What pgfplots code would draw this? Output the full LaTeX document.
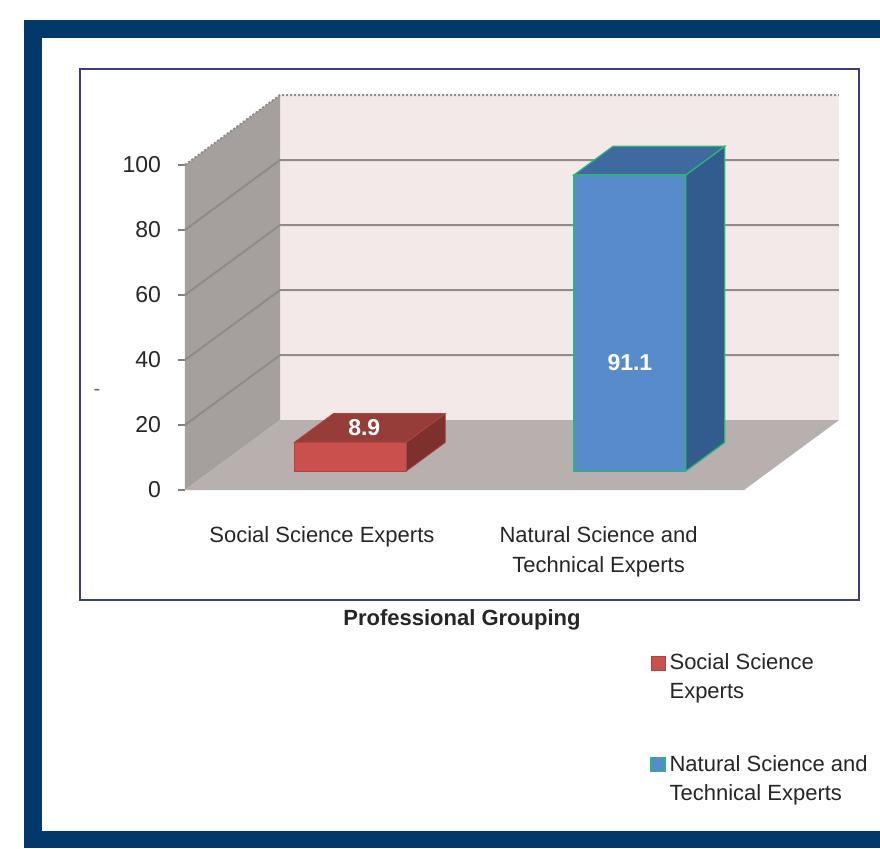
\documentclass[border=0pt]{standalone}
\usepackage{pgfplots}
\usepackage{pgfplotstable}
\pgfplotsset{compat=1.18}
\usepackage{fontspec}
\setmainfont{Liberation Sans}

\definecolor{navyframe}{HTML}{03386B}
\definecolor{plotborder}{HTML}{3D3D7D}
\definecolor{backwall}{HTML}{F4E9E9}
\definecolor{sidewall}{HTML}{A59F9E}
\definecolor{floorc}{HTML}{B8B0AF}
\definecolor{gridc}{HTML}{8F8B8B}
\definecolor{redF}{HTML}{C9504C}
\definecolor{redT}{HTML}{963C39}
\definecolor{redS}{HTML}{7D302D}
\definecolor{redE}{HTML}{B0443F}
\definecolor{blueF}{HTML}{578CCB}
\definecolor{blueT}{HTML}{3F6AA0}
\definecolor{blueS}{HTML}{335C8E}
\definecolor{greenE}{HTML}{2BB673}

% data
\pgfplotstableread{
x val
0 8.9
1 91.1
}\bars
\pgfplotstablegetelem{0}{val}\of\bars \let\valA\pgfplotsretval
\pgfplotstablegetelem{1}{val}\of\bars \let\valB\pgfplotsretval

% corners of the faces of a 3-D bar (u: across, d: depth, h: height)
\pgfplotstableread{
u d h
0 0 0
1 0 0
1 0 1
0 0 1
}\frontface
\pgfplotstableread{
u d h
0 0 1
1 0 1
1 1 1
0 1 1
}\topface
\pgfplotstableread{
u d h
1 0 0
1 1 0
1 1 1
1 0 1
}\sideface

% #1 style, #2 face table, #3 category position, #4 value
\newcommand\barface[4]{%
\addplot[#1, forget plot] table[x expr={#3+(\thisrow{u}-0.5)*0.4+(0.27+0.41*\thisrow{d})*0.34},
  y expr={(0.27+0.41*\thisrow{d})*21.5+\thisrow{h}*#4}] {#2} -- cycle;}

\begin{document}
\begin{tikzpicture}
\begin{scope}[x=0.5pt,y=-0.5pt]
\fill[white] (0,0) rectangle (880,848);
\fill[navyframe] (24,20) rectangle (880,848);
\fill[white] (42,38) rectangle (880,831);
\draw[plotborder, line width=1.1pt] (80,69) rectangle (859,600);
\node[text=black!60, font=\fontsize{10}{10}\selectfont] at (97,392) {-};
\end{scope}

\begin{axis}[
  at={(92.5pt,-245pt)}, anchor=south west,
  scale only axis, width=327pt, height=197.5pt,
  xmin=-0.5, xmax=1.84, ymin=0, ymax=121.5,
  clip=false,
  axis x line*=bottom, axis y line*=left,
  axis line style={draw=none},
  xtick={-0.01,0.98},
  xticklabels={Social Science Experts,{Natural Science and\\Technical Experts}},
  x tick style={draw=none},
  xticklabel style={align=center, anchor=north, yshift=-11pt,
    font=\fontsize{11}{15}\selectfont, text=black!85},
  ytick={0,20,...,100},
  y tick style={draw=gray, line width=0.8pt},
  tick align=outside, major tick length=3.5pt,
  yticklabel style={font=\fontsize{11.5}{13}\selectfont, xshift=-5pt, text=black!85},
  /pgf/number format/assume math mode=true,
  xlabel={Professional Grouping},
  xlabel style={font=\bfseries\fontsize{11}{13}\selectfont, text=black!85,
    at={(axis description cs:0.4235,-0.329)}, anchor=center},
  legend style={at={(axis description cs:0.711,-0.393)}, anchor=north west,
    draw=none, fill=none, font=\fontsize{11}{14.5}\selectfont,
    row sep=35pt, cells={anchor=base west}, inner sep=0pt, text=black!85},
]
% walls and floor
\addplot[fill=backwall, draw=none, forget plot] coordinates {(-0.16,21.5) (1.84,21.5) (1.84,121.5) (-0.16,121.5)} -- cycle;
\addplot[fill=sidewall, draw=none, forget plot] coordinates {(-0.5,0) (-0.5,100) (-0.16,121.5) (-0.16,21.5)} -- cycle;
\addplot[fill=floorc, draw=none, forget plot] coordinates {(-0.5,0) (1.5,0) (1.84,21.5) (-0.16,21.5)} -- cycle;
% gridlines
\addplot[gridc, line width=1pt, forget plot] coordinates {(-0.5,20) (-0.16,41.5) (1.84,41.5)};
\addplot[gridc, line width=1pt, forget plot] coordinates {(-0.5,40) (-0.16,61.5) (1.84,61.5)};
\addplot[gridc, line width=1pt, forget plot] coordinates {(-0.5,60) (-0.16,81.5) (1.84,81.5)};
\addplot[gridc, line width=1pt, forget plot] coordinates {(-0.5,80) (-0.16,101.5) (1.84,101.5)};
\addplot[gridc, line width=1pt, densely dotted, forget plot] coordinates {(-0.5,100) (-0.16,121.5) (1.84,121.5)};
% red bar
\barface{fill=redS, draw=redE, line width=0.4pt}{\sideface}{0}{\valA}
\barface{fill=redT, draw=redE, line width=0.4pt}{\topface}{0}{\valA}
\barface{fill=redF, draw=redE, line width=0.4pt}{\frontface}{0}{\valA}
% blue bar
\barface{fill=blueS, draw=greenE, line width=0.6pt}{\sideface}{1}{\valB}
\barface{fill=blueT, draw=greenE, line width=0.6pt}{\topface}{1}{\valB}
\barface{fill=blueF, draw=greenE, line width=0.6pt}{\frontface}{1}{\valB}
% value labels
\node[text=white, font=\bfseries\fontsize{11.5}{13}\selectfont] at (axis cs:{0-0.02+0.475*0.34},{0.475*21.5+\valA}) {\valA};
\node[text=white, font=\bfseries\fontsize{11.5}{13}\selectfont] at (axis cs:{1+0.27*0.34},{0.27*21.5+0.365*\valB}) {\valB};
% legend
\addlegendimage{legend image code/.code={\draw[fill=redF, draw=redE] (0pt,0pt) rectangle (7pt,7pt);}}
\addlegendentry{\begin{tabular}[t]{@{}l@{}}Social Science\\Experts\end{tabular}}
\addlegendimage{legend image code/.code={\draw[fill=blueF, draw=greenE, line width=0.6pt] (0pt,0pt) rectangle (7pt,7pt);}}
\addlegendentry{\begin{tabular}[t]{@{}l@{}}Natural Science and\\Technical Experts\end{tabular}}
\end{axis}
\end{tikzpicture}
\end{document}
